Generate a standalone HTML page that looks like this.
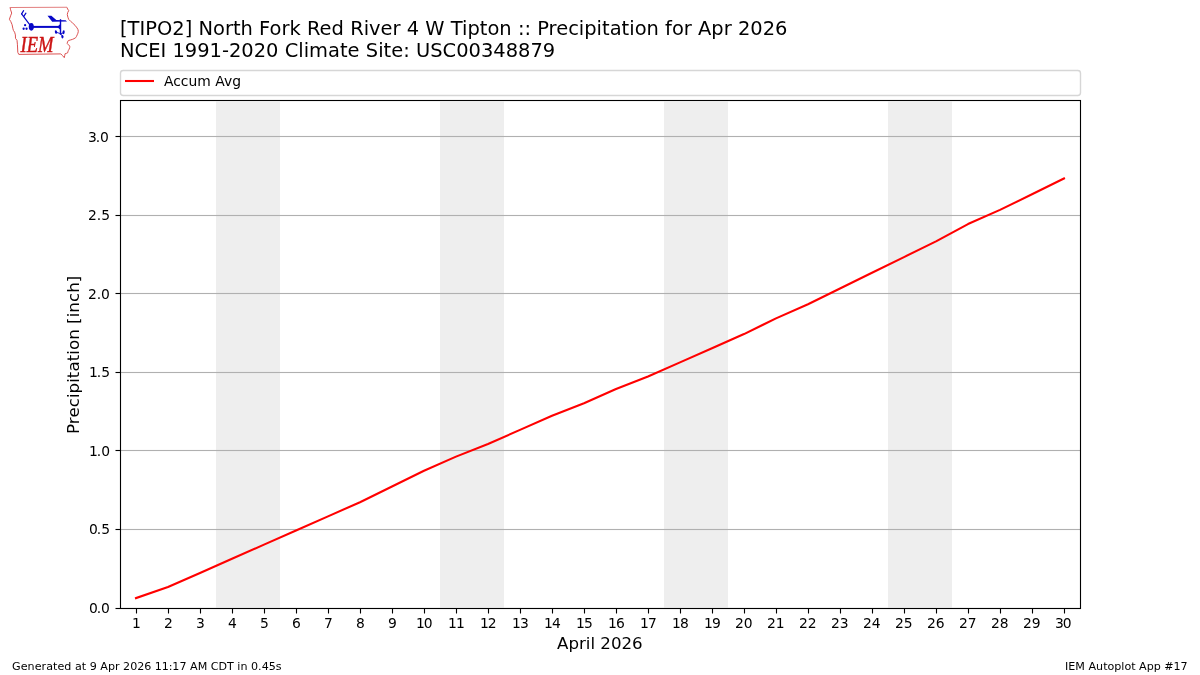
<!DOCTYPE html>
<html lang="en">
<head>
<meta charset="utf-8">
<title>IEM Autoplot App #17</title>
<style>
html,body{margin:0;padding:0;background:#fff;}
body{width:1200px;height:675px;overflow:hidden;}
svg{display:block;will-change:transform;}
text{font-family:"DejaVu Sans","Liberation Sans",sans-serif;fill:#000;}
.t14{font-size:19.44px;}
.t12{font-size:16.67px;}
.t10{font-size:13.89px;}
.t8{font-size:11.11px;}
</style>
</head>
<body>
<svg width="1200" height="675" viewBox="0 0 1200 675">
<rect x="0" y="0" width="1200" height="675" fill="#ffffff"/>
<g id="logo">
<path d="M66.9,7.3 L67.6,9 L68.7,10.6 L67.7,12.6 L67.3,14.6 L67.9,17.2 L68.7,19.4 L70.6,21.3 L72.6,23 L75,25.3 L77,27.9 L78,29.7 L78.3,31.4 L77.9,33.2 L77.2,34.8 L76.5,36.4 L75.7,37.7 L74,38.7 L72.4,39.4 L70.3,40 L68.3,40.6 L67.5,42 L67.2,43.5 L68.2,44.7 L69.5,45.6 L69.8,46.7 L69.7,47.7 L69.1,49.2 L68.3,50.6 L67.9,51.8 L67.6,52.9 L66.3,53.4 L65.1,53.7 L64.7,55.7 L64.3,57.7 L62.5,55.6 L60.8,53.9 L18.8,54.4 L17.8,52.4 L17.7,50 L17.4,44.2 L17,40.3 L15.5,38.4 L15.4,34.9 L14.6,32.2 L13.4,30.4 L12.8,28.2 L12.1,24.7 L10.8,21.6 L9.4,19.3 L10.6,15.8 L11.7,13.1 L10.6,9.8 L10.1,7.5" fill="none" stroke="#dc5252" stroke-width="1" stroke-linejoin="round"/>
<path d="M9.9,7.45 L67,7.3" fill="none" stroke="#e27f7f" stroke-width="1.15"/>
<g fill="#0808c8" stroke="none">
<ellipse cx="31.3" cy="26.85" rx="2.55" ry="3.8"/>
<rect x="31" y="25.9" width="29.5" height="2"/>
<polygon points="57.2,26.9 60,24.3 60,29.5"/>
<rect x="59.8" y="19.2" width="1.4" height="15.6"/>
<polygon points="47.5,15.7 51.4,15.7 56.3,19.9 65.6,20.2 67,21.5 52.2,21.7"/>
<circle cx="25.1" cy="25.2" r="1.12"/>
<circle cx="23.65" cy="28.75" r="1.15"/>
<circle cx="26.55" cy="28.75" r="1.15"/>
<ellipse cx="56" cy="32" rx="1.15" ry="1.8" transform="rotate(-12 56 32)"/>
<ellipse cx="63.6" cy="32.2" rx="1.1" ry="2" transform="rotate(8 63.6 32.2)"/>
<ellipse cx="62.4" cy="36.7" rx="1.1" ry="1.8" transform="rotate(-8 62.4 36.7)"/>
</g>
<g fill="none" stroke="#0808c8" stroke-linecap="round">
<path d="M31,26.4 L21.6,13.8" stroke-width="1.2"/>
<path d="M21.6,13.8 L23.6,10.7 M23.8,16.4 L25.9,13.2" stroke-width="1.2"/>
<path d="M56.8,32.4 L60.6,33.7 L63,33 M60.6,33.7 L62.2,35.8" stroke-width="0.9"/>
</g>
<text x="20.6" y="51.7" textLength="33" lengthAdjust="spacingAndGlyphs" style="font-family:'Liberation Serif','DejaVu Serif',serif;font-style:italic;font-size:23px;fill:#cc1414;stroke:#cc1414;stroke-width:0.45px;">IEM</text>
</g>
<text class="t14" x="120" y="35" textLength="667.4" lengthAdjust="spacing">[TIPO2] North Fork Red River 4 W Tipton :: Precipitation for Apr 2026</text>
<text class="t14" x="120" y="57" textLength="435.2" lengthAdjust="spacing">NCEI 1991-2020 Climate Site: USC00348879</text>
<rect x="216" y="101.6" width="64" height="505.9" fill="#eeeeee"/>
<rect x="440" y="101.6" width="64" height="505.9" fill="#eeeeee"/>
<rect x="664" y="101.6" width="64" height="505.9" fill="#eeeeee"/>
<rect x="888" y="101.6" width="64" height="505.9" fill="#eeeeee"/>
<path d="M120,135.945H1081V137.055H120ZM120,214.945H1081V216.055H120ZM120,292.945H1081V294.055H120ZM120,371.945H1081V373.055H120ZM120,449.945H1081V451.055H120ZM120,528.945H1081V530.055H120Z" fill="#b0b0b0"/>
<path d="M121,135H1080V136H121Z M121,137H1080V138H121ZM121,214H1080V215H121Z M121,216H1080V217H121ZM121,292H1080V293H121Z M121,294H1080V295H121ZM121,371H1080V372H121Z M121,373H1080V374H121ZM121,449H1080V450H121Z M121,451H1080V452H121ZM121,528H1080V529H121Z M121,530H1080V531H121ZM121,607H1080V608H121Z" fill="#b0b0b0" fill-opacity="0.056"/>
<polyline points="136.0,598.07 168.0,587.07 200.0,572.93 232.0,558.78 264.0,544.64 296.0,530.50 328.0,516.35 360.0,502.21 392.0,486.49 424.0,470.78 456.0,456.64 488.0,444.06 520.0,429.92 552.0,415.78 584.0,403.20 616.0,389.06 648.0,376.49 680.0,362.35 712.0,348.20 744.0,334.06 776.0,318.34 808.0,304.20 840.0,288.49 872.0,272.77 904.0,257.06 936.0,241.34 968.0,224.05 1000.0,209.91 1032.0,194.20 1064.0,178.48" fill="none" stroke="#ff0000" stroke-width="2.08" stroke-linejoin="round" stroke-linecap="square"/>
<path fill-rule="evenodd" fill="#000" d="M119.945,99.945H1081.055V609.055H119.945Z M121.055,101.055H1079.945V607.945H121.055Z"/>
<path d="M135.945,608.5h1.11v5h-1.11ZM167.945,608.5h1.11v5h-1.11ZM199.945,608.5h1.11v5h-1.11ZM231.945,608.5h1.11v5h-1.11ZM263.945,608.5h1.11v5h-1.11ZM295.945,608.5h1.11v5h-1.11ZM327.945,608.5h1.11v5h-1.11ZM359.945,608.5h1.11v5h-1.11ZM391.945,608.5h1.11v5h-1.11ZM423.945,608.5h1.11v5h-1.11ZM455.945,608.5h1.11v5h-1.11ZM487.945,608.5h1.11v5h-1.11ZM519.945,608.5h1.11v5h-1.11ZM551.945,608.5h1.11v5h-1.11ZM583.945,608.5h1.11v5h-1.11ZM615.945,608.5h1.11v5h-1.11ZM647.945,608.5h1.11v5h-1.11ZM679.945,608.5h1.11v5h-1.11ZM711.945,608.5h1.11v5h-1.11ZM743.945,608.5h1.11v5h-1.11ZM775.945,608.5h1.11v5h-1.11ZM807.945,608.5h1.11v5h-1.11ZM839.945,608.5h1.11v5h-1.11ZM871.945,608.5h1.11v5h-1.11ZM903.945,608.5h1.11v5h-1.11ZM935.945,608.5h1.11v5h-1.11ZM967.945,608.5h1.11v5h-1.11ZM999.945,608.5h1.11v5h-1.11ZM1031.945,608.5h1.11v5h-1.11ZM1063.945,608.5h1.11v5h-1.11ZM115.5,135.945h5v1.11h-5ZM115.5,214.945h5v1.11h-5ZM115.5,292.945h5v1.11h-5ZM115.5,371.945h5v1.11h-5ZM115.5,449.945h5v1.11h-5ZM115.5,528.945h5v1.11h-5ZM115.5,607.945h5v1.11h-5Z" fill="#000"/>
<path d="M119.945,99H1081.055V100H119.945Z M119.945,101H1081.055V102H119.945ZM119.945,607H1081.055V608H119.945Z M119.945,609H1081.055V610H119.945ZM115.5,135H120V136H115.5Z M115.5,137H120V138H115.5ZM115.5,214H120V215H115.5Z M115.5,216H120V217H115.5ZM115.5,292H120V293H115.5Z M115.5,294H120V295H115.5ZM115.5,371H120V372H115.5Z M115.5,373H120V374H115.5ZM115.5,449H120V450H115.5Z M115.5,451H120V452H115.5ZM115.5,528H120V529H115.5Z M115.5,530H120V531H115.5ZM115.5,607H120V608H115.5Z M115.5,609H120V610H115.5Z" fill="#000" fill-opacity="0.056"/>
<g class="t10">
<text x="132.10" y="628">1</text><text x="163.96" y="628">2</text><text x="196.06" y="628">3</text><text x="228.09" y="628">4</text><text x="260.05" y="628">5</text><text x="292.04" y="628">6</text><text x="324.00" y="628">7</text><text x="356.09" y="628">8</text><text x="388.03" y="628">9</text><text x="416.10 423.85" y="628">10</text><text x="448.10 455.98" y="628">11</text><text x="480.10 487.84" y="628">12</text><text x="512.10 519.94" y="628">13</text><text x="544.10 551.96" y="628">14</text><text x="576.10 583.92" y="628">15</text><text x="608.10 615.91" y="628">16</text><text x="640.10 647.88" y="628">17</text><text x="672.10 679.97" y="628">18</text><text x="704.10 711.91" y="628">19</text><text x="734.96 743.73" y="628">20</text><text x="766.96 775.85" y="628">21</text><text x="798.96 807.71" y="628">22</text><text x="830.96 839.81" y="628">23</text><text x="862.96 871.84" y="628">24</text><text x="894.96 903.80" y="628">25</text><text x="926.96 935.79" y="628">26</text><text x="958.96 967.75" y="628">27</text><text x="990.96 999.84" y="628">28</text><text x="1022.96 1031.78" y="628">29</text><text x="1055.06 1062.73" y="628">30</text>
</g>
<g class="t10">
<text x="88.06 95.74 100.10" y="142">3.0</text><text x="87.96 96.74 101.17" y="220">2.5</text><text x="87.96 96.74 101.10" y="299">2.0</text><text x="89.10 96.87 101.30" y="377">1.5</text><text x="89.10 96.87 101.23" y="456">1.0</text><text x="88.98 96.74 101.17" y="534">0.5</text><text x="88.98 96.74 101.10" y="613">0.0</text>
</g>
<text class="t12" x="557.02 568.38 578.91 585.82 590.45 595.00 600.33 610.91 621.45 631.98" y="649">April 2026</text>
<text class="t12" transform="translate(79.1,354.85) rotate(-90)" text-anchor="middle" textLength="158.2" lengthAdjust="spacing">Precipitation [inch]</text>
<rect x="120.5" y="70.5" width="960" height="25" rx="2.78" ry="2.78" fill="#ffffff" fill-opacity="0.8" stroke="#cccccc" stroke-opacity="0.8" stroke-width="1.39"/>
<line x1="126.04" x2="152.96" y1="81" y2="81" stroke="#ff0000" stroke-width="2.08" stroke-linecap="square"/>
<text class="t10" x="164.12 173.23 180.86 188.47 197.27 210.75 215.24 223.95 232.16" y="86">Accum Avg</text>
<text class="t8" x="12.02 20.70 27.52 34.70 41.53 46.16 53.01 57.45 64.30 71.38 74.91 81.76 86.12 89.70 96.75 100.37 107.91 114.91 119.50 123.05 130.17 137.18 144.25 151.25 154.73 161.73 168.70 172.35 179.40 186.50 190.12 197.72 207.25 210.80 218.52 227.10 233.75 237.27 240.39 247.50 251.05 258.05 261.70 268.73 275.79" y="670">Generated at 9 Apr 2026 11:17 AM CDT in 0.45s</text>
<text class="t8" x="1065.06 1068.31 1075.34 1084.88 1088.49 1096.08 1103.13 1107.54 1114.28 1121.27 1124.41 1131.13 1135.50 1139.12 1146.66 1153.66 1160.62 1164.21 1173.48 1180.52" y="670">IEM Autoplot App #17</text>
</svg>
</body>
</html>
